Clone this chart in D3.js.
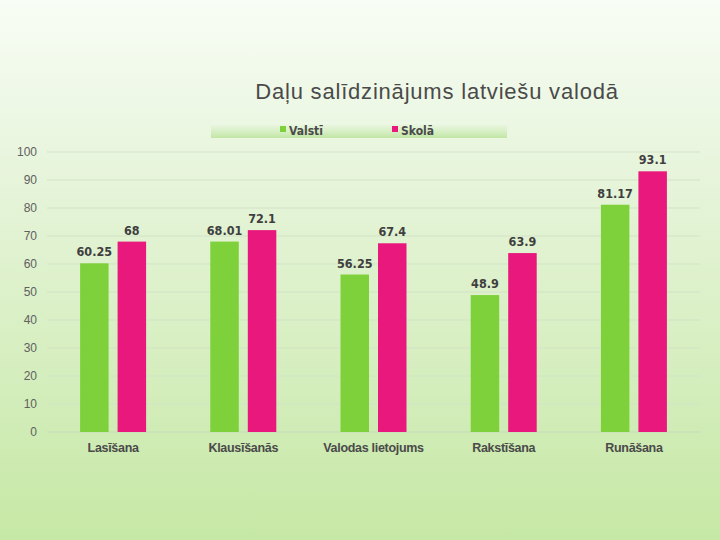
<!DOCTYPE html>
<html><head><meta charset="utf-8">
<script src="https://cdn.jsdelivr.net/npm/d3@7"></script>
<style>html,body{margin:0;padding:0;}svg{display:block;}</style>
</head><body>
<script>
const categories = ["Lasīšana","Klausīšanās","Valodas lietojums","Rakstīšana","Runāšana"];
const seriesNames = ["Valstī","Skolā"];
const valsti = [60.25, 68.01, 56.25, 48.9, 81.17];
const skola = [68, 72.1, 67.4, 63.9, 93.1];
const labelsValsti = ["60.25","68.01","56.25","48.9","81.17"];
const labelsSkola = ["68","72.1","67.4","63.9","93.1"];
const yTicks = [0,10,20,30,40,50,60,70,80,90,100];
const colors = ["#7ed13b","#e8187c"];

const W=720,H=540;
const svg=d3.select("body").append("svg").attr("width",W).attr("height",H);
const defs=svg.append("defs");
const bg=defs.append("linearGradient").attr("id","bg").attr("x1",0).attr("y1",0).attr("x2",0).attr("y2",1);
bg.append("stop").attr("offset","0%").attr("stop-color","#f8fdf5");
bg.append("stop").attr("offset","30%").attr("stop-color","#e8f5dd");
bg.append("stop").attr("offset","100%").attr("stop-color","#c6e8a5");
svg.append("rect").attr("width",W).attr("height",H).attr("fill","url(#bg)");

const lg=defs.append("linearGradient").attr("id","lg").attr("x1",0).attr("y1",0).attr("x2",0).attr("y2",1);
lg.append("stop").attr("offset","0%").attr("stop-color","#f0f9ea");
lg.append("stop").attr("offset","60%").attr("stop-color","#d6efc4");
lg.append("stop").attr("offset","100%").attr("stop-color","#c2e6a4");

const x=d3.scaleBand().domain(categories).range([48,699]);
const y=d3.scaleLinear().domain([0,100]).range([432,152]);
const barW=28.5, gap=9;

// grid
svg.append("g").selectAll("line").data(yTicks).join("line")
 .attr("x1",47).attr("x2",700).attr("y1",d=>y(d)).attr("y2",d=>y(d))
 .attr("stroke",d=>d===0?"#c8d8bc":"#d2e3c6").attr("stroke-width",1);

// y axis labels
const yAxis=d3.axisLeft(y).tickValues(yTicks).tickSize(0).tickPadding(0);
const ya=svg.append("g").attr("transform","translate(37,0)").call(yAxis);
ya.select(".domain").remove();
ya.selectAll("text").attr("font-family","Liberation Sans, Arial, sans-serif").attr("font-size",12).attr("fill","#606060");

// bars
const data=categories.map((c,i)=>({c,vals:[valsti[i],skola[i]],labs:[labelsValsti[i],labelsSkola[i]]}));
const g=svg.append("g");
data.forEach(d=>{
  const cx=x(d.c)+x.bandwidth()/2;
  d.vals.forEach((v,k)=>{
    const bx = k===0 ? cx-gap/2-barW : cx+gap/2;
    g.append("rect").attr("x",bx).attr("y",y(v)).attr("width",barW).attr("height",y(0)-y(v)).attr("fill",colors[k]);
    g.append("text").attr("x",bx+barW/2).attr("y",y(v)-7).attr("text-anchor","middle")
     .attr("font-family","DejaVu Sans Condensed, DejaVu Sans, sans-serif").attr("font-stretch","condensed").attr("font-weight","bold").attr("font-size",12.5)
     .attr("fill","#3f3f3f").text(d.labs[k]);
  });
});

// x labels
const xAxis=d3.axisBottom(x).tickSize(0).tickPadding(0);
const xa=svg.append("g").attr("transform","translate(0,452)").call(xAxis);
xa.select(".domain").remove();
xa.selectAll("text").attr("dy",0).attr("font-family","Liberation Sans, Arial, sans-serif").attr("font-size",12.5).attr("fill","#4a4a4a").attr("font-weight","bold").attr("letter-spacing","-0.3");

// title
svg.append("text").attr("x",437).attr("y",99).attr("text-anchor","middle")
 .attr("font-family","Liberation Sans, Arial, sans-serif").attr("font-size",22).attr("letter-spacing","0.8").attr("fill","#4a4a4a")
 .text("Daļu salīdzinājums latviešu valodā");

// legend
svg.append("rect").attr("x",211).attr("y",122).attr("width",296).attr("height",16).attr("fill","url(#lg)");
const legX=[280,392];
seriesNames.forEach((n,k)=>{
  svg.append("rect").attr("x",legX[k]).attr("y",126).attr("width",6).attr("height",6).attr("fill",colors[k]);
  svg.append("text").attr("x",legX[k]+9).attr("y",135).attr("font-family","DejaVu Sans Condensed, DejaVu Sans, sans-serif").attr("font-stretch","condensed")
   .attr("font-weight","bold").attr("font-size",12).attr("fill","#4a4a4a").text(n);
});
</script>
</body></html>
